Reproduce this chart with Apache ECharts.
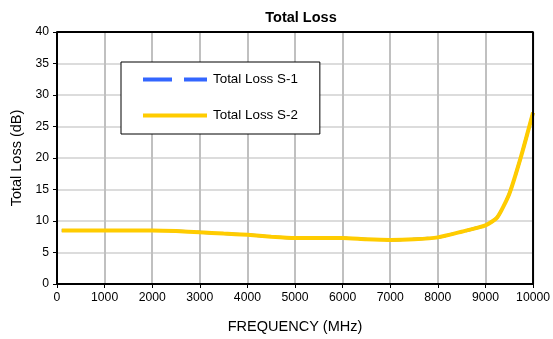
<!DOCTYPE html>
<html>
<head>
<meta charset="utf-8">
<script src="https://cdn.jsdelivr.net/npm/echarts@6/dist/echarts.min.js"></script>
<style>
  html, body { margin: 0; padding: 0; background: #fff; }
  #chart { width: 553px; height: 339px; }
</style>
</head>
<body>
<div id="chart"></div>
<script>
// Frequency sweep in MHz
var freqMHz = [100, 500, 1000, 1500, 2000, 2500, 3000, 3500, 4000, 4500, 5000, 5500, 6000, 6500, 7000, 7500, 8000, 8500, 9000, 9250, 9500, 9750, 10000];
// Total loss (dB) for each sample
var lossS1 = [8.5, 8.5, 8.5, 8.5, 8.5, 8.4, 8.2, 8.0, 7.8, 7.5, 7.3, 7.3, 7.3, 7.1, 7.0, 7.1, 7.4, 8.3, 9.3, 10.6, 14.3, 20.3, 27.2];
var lossS2 = [8.5, 8.5, 8.5, 8.5, 8.5, 8.4, 8.2, 8.0, 7.8, 7.5, 7.3, 7.3, 7.3, 7.1, 7.0, 7.1, 7.4, 8.3, 9.3, 10.6, 14.3, 20.3, 27.2];
var seriesNames = ['Total Loss S-1', 'Total Loss S-2'];

function pairs(xs, ys) {
  return xs.map(function (x, i) { return [x, ys[i]]; });
}

var chart = echarts.init(document.getElementById('chart'), null, { renderer: 'canvas' });
var font = 'Liberation Sans, Arial, sans-serif';

// legend swatches: a long-dash stroke and a solid stroke
var dashIcon = 'path://M0,0h29v4h-29z M41,0h23v4h-23z';
var solidIcon = 'path://M0,0h64v4h-64z';

chart.setOption({
  animation: false,
  backgroundColor: '#ffffff',
  title: {
    text: 'Total Loss',
    left: 296,
    textAlign: 'center',
    top: 5,
    textStyle: { fontFamily: font, fontSize: 14.5, fontWeight: 'bold', color: '#000' }
  },
  legend: {
    orient: 'vertical',
    left: 121,
    top: 62,
    width: 199,
    padding: [10, 22, 11, 22],
    itemWidth: 64,
    itemHeight: 4,
    itemGap: 21,
    backgroundColor: '#fff',
    borderColor: '#000',
    borderWidth: 1,
    textStyle: { fontFamily: font, fontSize: 13.4, color: '#000', lineHeight: 15, padding: [0, 0, 0, 1] },
    data: [
      { name: seriesNames[0], icon: dashIcon },
      { name: seriesNames[1], icon: solidIcon }
    ]
  },
  grid: { left: 57, right: 18, top: 32, bottom: 55 },
  xAxis: {
    type: 'value',
    min: 0, max: 10000, interval: 1000,
    name: 'FREQUENCY (MHz)',
    nameLocation: 'middle',
    nameGap: 35,
    nameTextStyle: { fontFamily: font, fontSize: 14.5, color: '#000' },
    axisLine: { onZero: false, lineStyle: { color: '#000', width: 2 } },
    axisTick: { show: true, length: 4, lineStyle: { color: '#000', width: 1 } },
    axisLabel: { fontFamily: font, fontSize: 12.2, color: '#000', margin: 8, formatter: function (v) { return String(v); } },
    splitLine: { show: true, lineStyle: { color: '#c0c0c0', width: 2 } }
  },
  yAxis: {
    type: 'value',
    min: 0, max: 40, interval: 5,
    name: 'Total Loss (dB)',
    nameLocation: 'middle',
    nameGap: 32,
    nameTextStyle: { fontFamily: font, fontSize: 14.5, color: '#000' },
    axisLine: { lineStyle: { color: '#000', width: 2 } },
    axisTick: { show: true, length: 4, lineStyle: { color: '#000', width: 1 } },
    axisLabel: { fontFamily: font, fontSize: 12.2, color: '#000', margin: 8 },
    splitLine: { show: true, lineStyle: { color: '#d0d0d0', width: 1.5 } }
  },
  series: [
    {
      name: seriesNames[0],
      type: 'line',
      data: pairs(freqMHz, lossS1),
      showSymbol: false,
      symbol: 'none',
      smooth: 0.2,
      color: '#3366ff',
      lineStyle: { color: '#3366ff', width: 3, type: [16, 11] },
      z: 2
    },
    {
      name: seriesNames[1],
      type: 'line',
      data: pairs(freqMHz, lossS2),
      showSymbol: false,
      symbol: 'none',
      smooth: 0.2,
      color: '#ffcc00',
      lineStyle: { color: '#ffcc00', width: 4 },
      z: 3
    },
    {
      // plot-area frame on the top and right edges
      type: 'line',
      data: [[0, 40], [10000, 40], [10000, 0]],
      showSymbol: false,
      symbol: 'none',
      silent: true,
      lineStyle: { color: '#000', width: 2 },
      z: 4
    }
  ]
});
</script>
</body>
</html>
